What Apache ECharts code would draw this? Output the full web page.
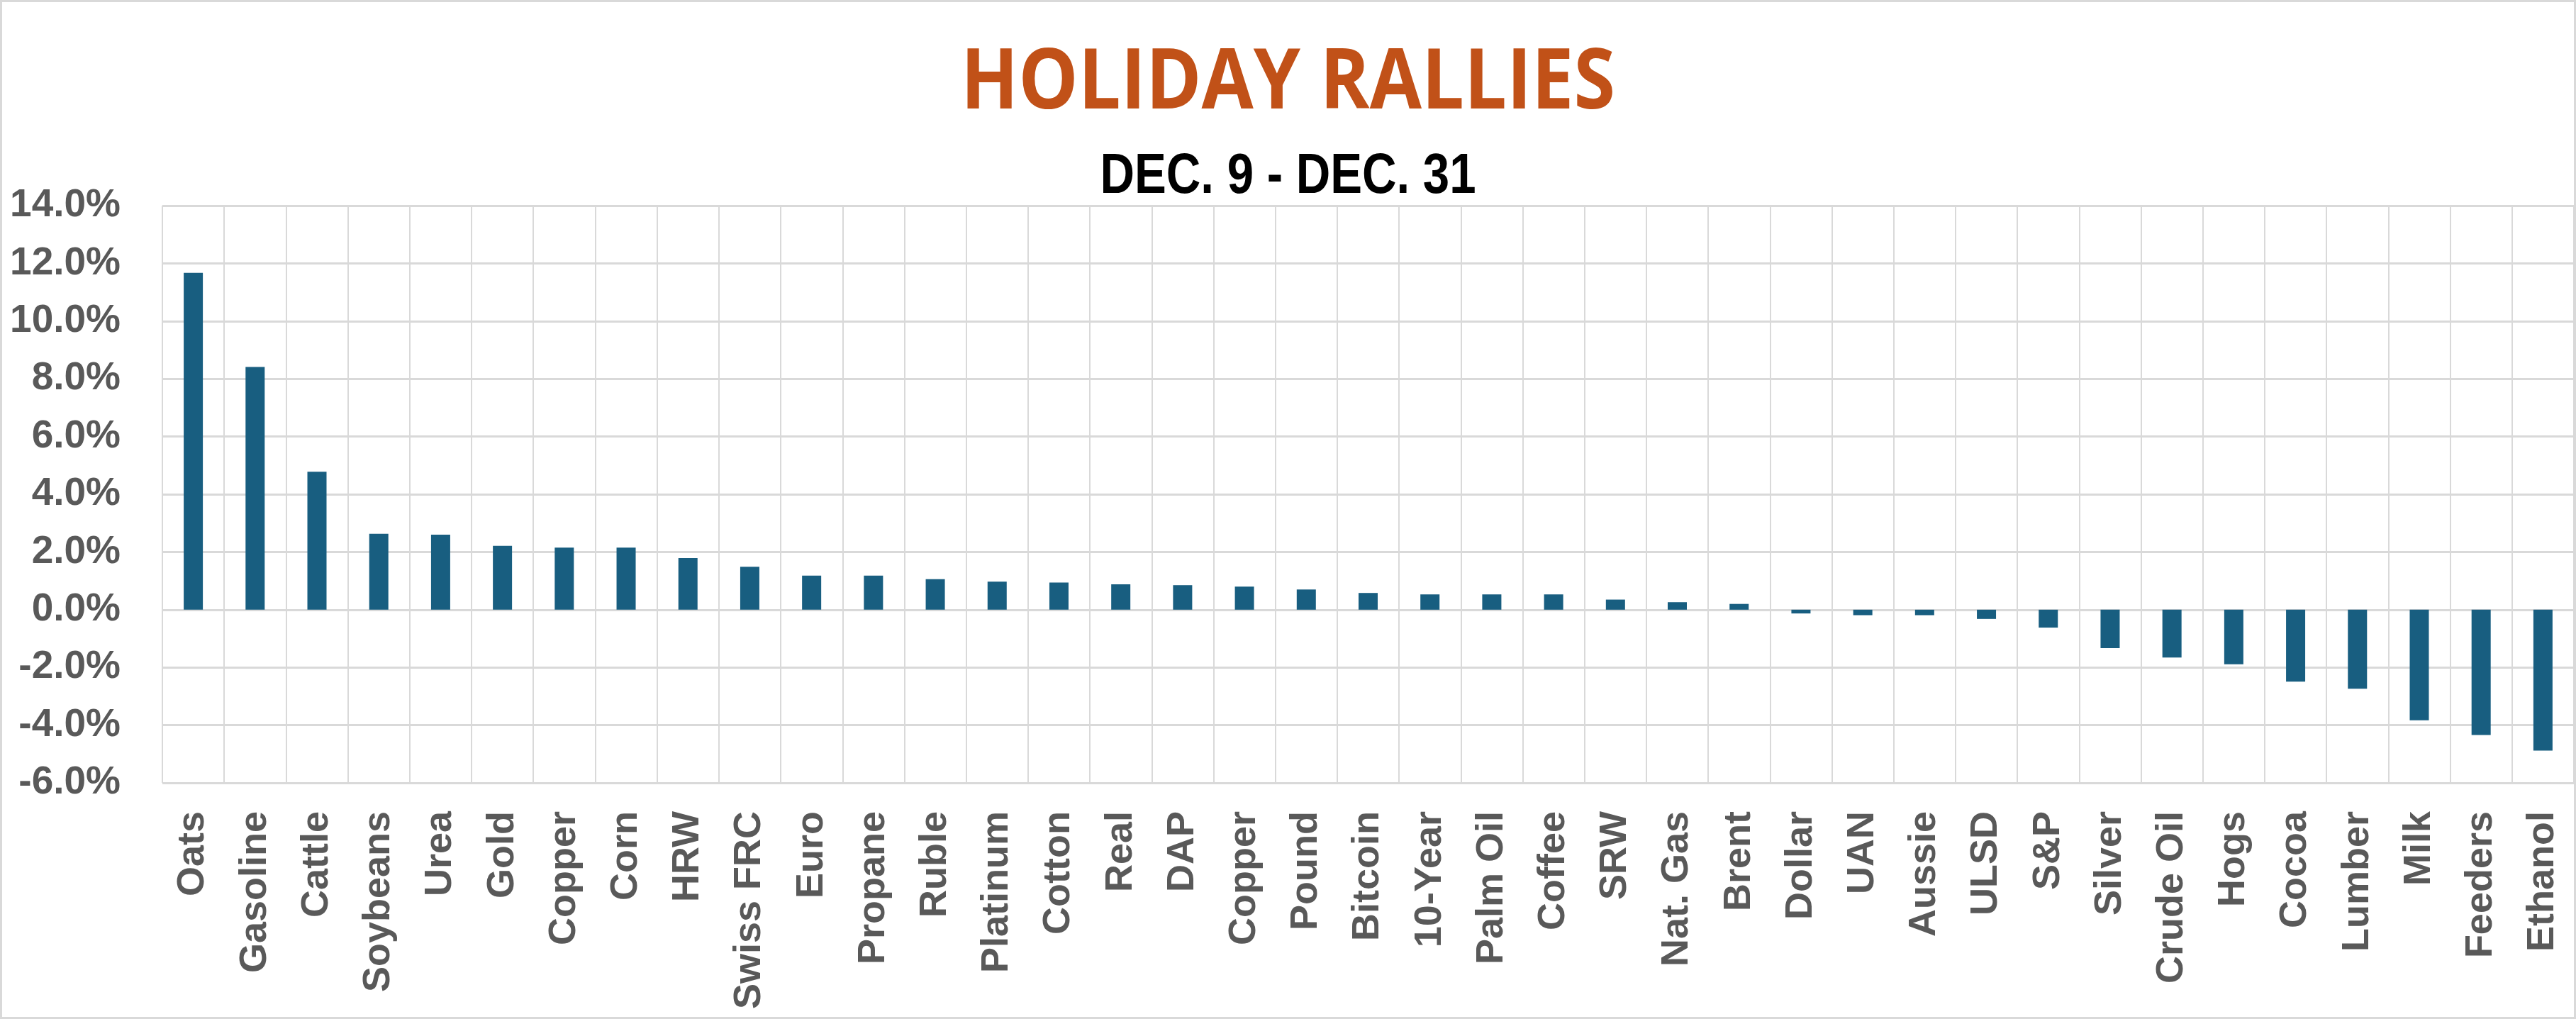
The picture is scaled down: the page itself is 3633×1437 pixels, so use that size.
<!DOCTYPE html>
<html>
<head>
<meta charset="utf-8">
<script src="https://cdn.jsdelivr.net/npm/echarts@6/dist/echarts.min.js"></script>
<style>
html,body{margin:0;padding:0;background:#fff;}
#chart{width:3633px;height:1437px;}
</style>
</head>
<body>
<div id="chart"></div>
<script>
const categories = ['Oats','Gasoline','Cattle','Soybeans','Urea','Gold','Copper','Corn','HRW','Swiss FRC','Euro','Propane','Ruble','Platinum','Cotton','Real','DAP','Copper','Pound','Bitcoin','10-Year','Palm Oil','Coffee','SRW','Nat. Gas','Brent','Dollar','UAN','Aussie','ULSD','S&P','Silver','Crude Oil','Hogs','Cocoa','Lumber','Milk','Feeders','Ethanol'];
const changePct = [11.67,8.41,4.78,2.63,2.60,2.21,2.15,2.15,1.79,1.49,1.18,1.18,1.06,0.97,0.94,0.88,0.85,0.80,0.70,0.58,0.53,0.53,0.53,0.35,0.26,0.20,-0.13,-0.19,-0.19,-0.32,-0.62,-1.33,-1.66,-1.89,-2.49,-2.74,-3.83,-4.34,-4.88];
const yTicks = {min:-6, max:14, interval:2};
const titleText = 'HOLIDAY RALLIES';
const subtitleText = 'DEC. 9 - DEC. 31';

// font helpers (used only to horizontally condense the heading text to the reference width)
const ctx = document.createElement('canvas').getContext('2d');
function textWidth(t, font){ ctx.font = font; return ctx.measureText(t).width; }
const titleFont = 'bold 119px "Open Sans"';
const subFont = 'bold 80px "Liberation Sans"';
const titleScale = Math.min(1, 923 / textWidth(titleText, titleFont));
const subScale = Math.min(1, 530 / textWidth(subtitleText, subFont));
const cx = 3633 / 2;

const chart = echarts.init(document.getElementById('chart'), null, {renderer:'canvas'});
chart.setOption({
  animation:false,
  backgroundColor:'#ffffff',
  graphic:[{
    type:'rect', silent:true, z:100,
    shape:{x:1.5, y:1.5, width:3630, height:1434},
    style:{fill:'none', stroke:'#D9D9D9', lineWidth:3}
  },{
    type:'text', silent:true, x:cx, y:119.5, scaleX:titleScale,
    style:{text:titleText, font:titleFont, fill:'#C15118', textAlign:'center', textVerticalAlign:'middle'}
  },{
    type:'text', silent:true, x:cx, y:250, scaleX:subScale,
    style:{text:subtitleText, font:subFont, fill:'#000000', textAlign:'center', textVerticalAlign:'middle'}
  }],
  grid:{left:229, right:3, top:290, bottom:333, containLabel:false},
  xAxis:{
    type:'category', data:categories, boundaryGap:true,
    axisLine:{show:false, onZero:false}, axisTick:{show:false},
    splitLine:{show:true, interval:0, lineStyle:{color:'#D9D9D9', width:2}},
    axisLabel:{interval:0, rotate:90, margin:40, color:'#595959', fontFamily:'"Liberation Sans", Arial, sans-serif', fontWeight:'bold', fontSize:54}
  },
  yAxis:{
    type:'value', min:yTicks.min, max:yTicks.max, interval:yTicks.interval,
    axisLine:{show:false}, axisTick:{show:false},
    splitLine:{show:true, lineStyle:{color:'#D9D9D9', width:3}},
    axisLabel:{margin:59, color:'#595959', fontFamily:'"Liberation Sans", Arial, sans-serif', fontWeight:'bold', fontSize:55,
      formatter:v => v.toFixed(1) + '%'}
  },
  series:[{
    type:'bar', data:changePct, barWidth:27,
    itemStyle:{color:'#185E80'}
  }]
});
</script>
</body>
</html>
